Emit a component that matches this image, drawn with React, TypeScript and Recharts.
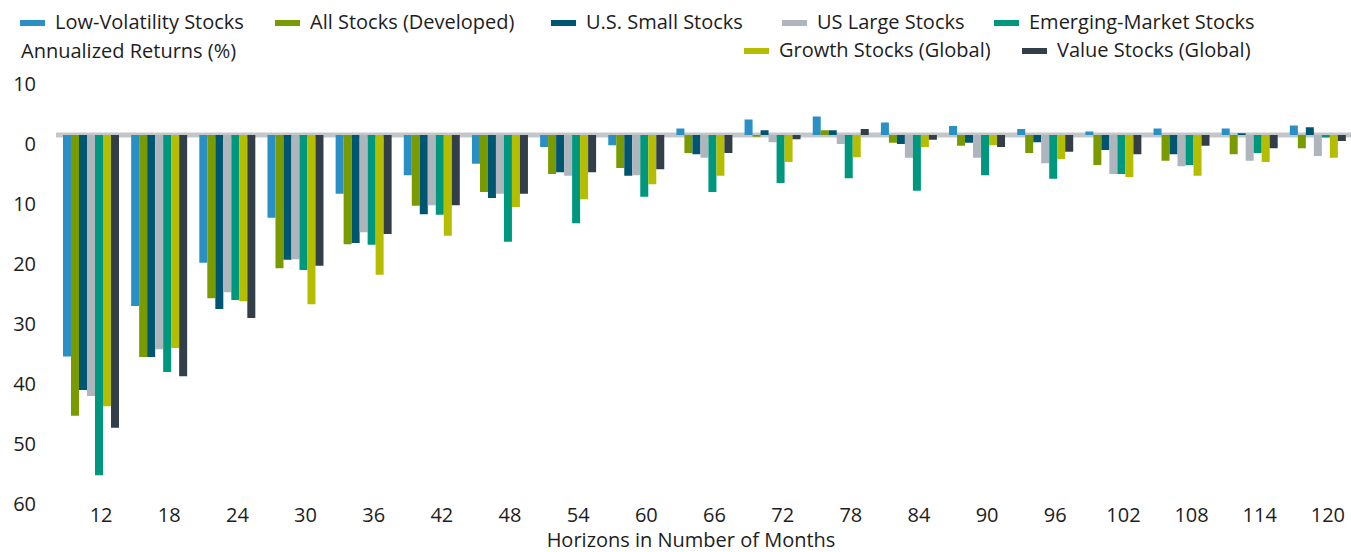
import React from 'react';
import { BarChart, Bar, XAxis, YAxis, CartesianGrid } from 'recharts';

// Horizons in months
const horizons = [12, 18, 24, 30, 36, 42, 48, 54, 60, 66, 72, 78, 84, 90, 96, 102, 108, 114, 120];

// Worst annualized returns (%) per horizon
const lowVol = [-36.9, -28.5, -21.3, -13.8, -9.8, -6.7, -4.8, -2, -1.7, 1.1, 2.6, 3.1, 2.1, 1.5, 1, 0.6, 1.1, 1.1, 1.6];
const allStocks = [-46.8, -37, -27.2, -22.2, -18.2, -11.8, -9.5, -6.5, -5.5, -3, -0.3, 0.8, -1.3, -1.8, -3, -5, -4.3, -3.2, -2.2];
const usSmall = [-42.5, -37, -29, -20.8, -18, -13.2, -10.5, -6.2, -6.8, -3.2, 0.8, 0.8, -1.5, -1.3, -1.2, -2.5, -3.2, 0.3, 1.3];
const usLarge = [-43.5, -35.7, -26.2, -20.7, -16.2, -11.7, -9.8, -6.8, -6.7, -3.8, -1.2, -1.5, -3.8, -3.8, -4.7, -6.5, -5.2, -4.3, -3.5];
const emerging = [-56.7, -39.5, -27.5, -22.5, -18.3, -13.3, -17.8, -14.7, -10.3, -9.5, -8, -7.2, -9.3, -6.7, -7.3, -6.5, -5, -3, -0.4];
const growth = [-45.2, -35.5, -27.7, -28.2, -23.3, -16.8, -12, -10.7, -8.2, -6.8, -4.5, -3.7, -2, -1.7, -4, -7, -6.8, -4.5, -3.8];
const value = [-48.8, -40.2, -30.5, -21.8, -16.5, -11.7, -9.8, -6.2, -5.7, -3, -0.7, 1, -0.8, -2, -2.8, -3.2, -1.8, -2.2, -1];

const yTicks = [10, 0, -10, -20, -30, -40, -50, -60];

const series = [
  { key: 'lowVol', name: 'Low-Volatility Stocks', color: '#2a8fc4', values: lowVol },
  { key: 'allStocks', name: 'All Stocks (Developed)', color: '#7a9a01', values: allStocks },
  { key: 'usSmall', name: 'U.S. Small Stocks', color: '#005670', values: usSmall },
  { key: 'usLarge', name: 'US Large Stocks', color: '#aeb5bd', values: usLarge },
  { key: 'emerging', name: 'Emerging-Market Stocks', color: '#00977f', values: emerging },
  { key: 'growth', name: 'Growth Stocks (Global)', color: '#b5bd00', values: growth },
  { key: 'value', name: 'Value Stocks (Global)', color: '#323e48', values: value },
];

const data = horizons.map((h, i) => {
  const row: Record<string, number> = { h };
  series.forEach(s => { row[s.key] = s.values[i]; });
  return row;
});

const FONT = '"Open Sans", Lato, sans-serif';
const TEXT = '#1d1d1d';
const FS = 20;

// legend entry: swatch left x, text baseline y
const legendSpots: Record<string, [number, number]> = {
  lowVol: [20, 29],
  allStocks: [275, 29],
  usSmall: [551, 29],
  usLarge: [782, 29],
  emerging: [994, 29],
  growth: [744, 57],
  value: [1022, 57],
};

const Overlay = () => (
  <svg width={1351} height={552} style={{ position: 'absolute', left: 0, top: 0, pointerEvents: 'none' }}>
    {series.map(s => {
      const [x, y] = legendSpots[s.key];
      return (
        <g key={s.key}>
          <rect x={x} y={y - 9} width={25} height={6} fill={s.color} />
          <text x={x + 35} y={y} fontFamily={FONT} fontSize={FS} fill={TEXT}>{s.name}</text>
        </g>
      );
    })}
    <text x={21} y={58} fontFamily={FONT} fontSize={FS} fill={TEXT}>Annualized Returns (%)</text>
    <text x={691} y={547} textAnchor="middle" fontFamily={FONT} fontSize={FS} fill={TEXT}>
      Horizons in Number of Months
    </text>
  </svg>
);

const YTick = (props: any) => {
  const { y, payload } = props;
  return (
    <text x={36} y={y + 8} textAnchor="end" dominantBaseline="central" fontFamily={FONT} fontSize={FS} fill={TEXT}>
      {Math.abs(payload.value)}
    </text>
  );
};

const XTick = (props: any) => {
  const { x, payload } = props;
  return (
    <text x={x + 11} y={522} textAnchor="middle" fontFamily={FONT} fontSize={FS} fill={TEXT}>
      {payload.value}
    </text>
  );
};

export default function App() {
  return (
    <div style={{ position: 'absolute', left: 0, top: 0, width: 1351, height: 552, background: '#fff' }}>
      <BarChart
        width={1351}
        height={552}
        data={data}
        margin={{ top: 75, right: 0, left: 0, bottom: 27 }}
        barGap={0}
        barCategoryGap={7}
      >
        <CartesianGrid vertical={false} horizontalValues={[0]} stroke="#c4c7ca" strokeWidth={5} />
        <XAxis dataKey="h" axisLine={false} tickLine={false} height={30} tick={<XTick />} interval={0} />
        <YAxis
          domain={[-60, 10]}
          ticks={yTicks}
          width={56}
          axisLine={false}
          tickLine={false}
          tick={<YTick />}
          allowDataOverflow
        />
        {series.map(s => (
          <Bar key={s.key} dataKey={s.key} name={s.name} fill={s.color} isAnimationActive={false} />
        ))}
      </BarChart>
      <Overlay />
    </div>
  );
}
